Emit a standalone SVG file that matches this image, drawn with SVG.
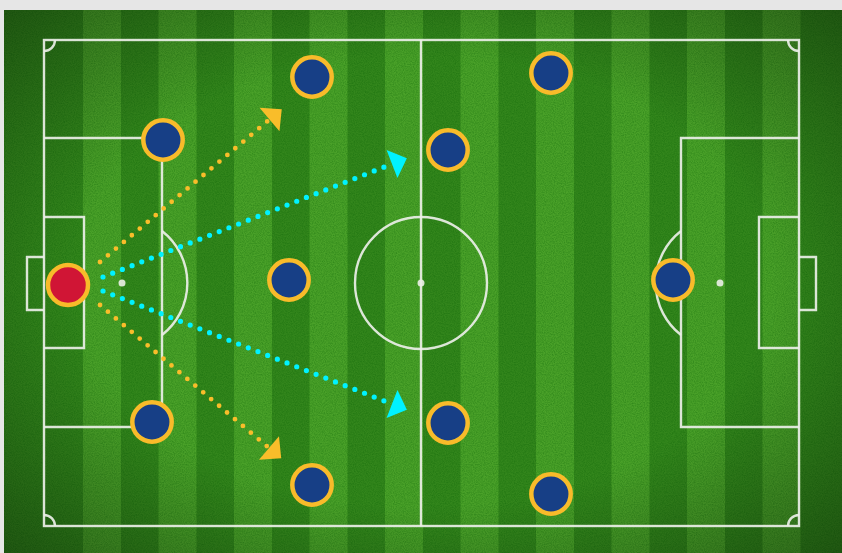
<svg xmlns="http://www.w3.org/2000/svg" width="842" height="553" viewBox="0 0 842 553">
<style>
.ln{fill:none;stroke:#ecefe8;stroke-width:2.4;stroke-opacity:0.92}
.spot{fill:#ecefe8;fill-opacity:0.9}
.stripe{fill:#5cb834;fill-opacity:0.55}
.blue{fill:#173f86;stroke:#f8bb2a;stroke-width:4.5}
.red{fill:#d01535;stroke:#f8bb2a;stroke-width:4.5}
.py{fill:none;stroke:#f9bd2a;stroke-width:4.8;stroke-linecap:round;stroke-dasharray:0 10.4}
.pc{fill:none;stroke:#00f2ff;stroke-width:5.2;stroke-linecap:round;stroke-dasharray:0 10.4}
</style>
<defs>
<radialGradient id="vig" cx="0.5" cy="0.5" r="0.75">
<stop offset="0.55" stop-color="#000" stop-opacity="0"/>
<stop offset="1" stop-color="#000" stop-opacity="0.4"/>
</radialGradient>
<filter id="noise" x="0" y="0" width="100%" height="100%">
<feTurbulence type="fractalNoise" baseFrequency="0.9" numOctaves="2" seed="3"/>
<feColorMatrix type="matrix" values="0 0 0 0 0  0 0 0 0 0.1  0 0 0 0 0  0 0 0 -1.1 0.75"/>
</filter>
<marker id="ay" markerUnits="userSpaceOnUse" markerWidth="20" markerHeight="32" viewBox="0 -15 16 30" refX="0" refY="0" orient="auto">
<path d="M0,-14.5 L15,0 L0,14.5 Z" fill="#f9bd2a"/>
</marker>
<marker id="ac" markerUnits="userSpaceOnUse" markerWidth="20" markerHeight="32" viewBox="0 -15 16 30" refX="0" refY="0" orient="auto">
<path d="M0,-14 L15,0 L0,14 Z" fill="#00f2ff"/>
</marker>
</defs>
<rect width="842" height="553" fill="#e6e6e6"/>
<g id="pitch">
<rect x="4" y="10" width="838" height="543" fill="#33861c"/>
<g>
<rect class="stripe" x="83" y="10" width="38" height="543"/>
<rect class="stripe" x="158.5" y="10" width="38" height="543"/>
<rect class="stripe" x="234" y="10" width="38" height="543"/>
<rect class="stripe" x="309.5" y="10" width="38" height="543"/>
<rect class="stripe" x="385" y="10" width="38" height="543"/>
<rect class="stripe" x="460.5" y="10" width="38" height="543"/>
<rect class="stripe" x="536" y="10" width="38" height="543"/>
<rect class="stripe" x="611.5" y="10" width="38" height="543"/>
<rect class="stripe" x="687" y="10" width="38" height="543"/>
<rect class="stripe" x="762.5" y="10" width="38" height="543"/>
</g>
<rect x="4" y="10" width="838" height="543" filter="url(#noise)" opacity="0.5"/>
<rect x="4" y="10" width="838" height="543" fill="url(#vig)"/>
<g id="markings">
<rect class="ln" x="44" y="40" width="755" height="486"/>
<line class="ln" x1="421" y1="40" x2="421" y2="526"/>
<circle class="ln" cx="421" cy="283" r="66"/>
<circle class="spot" cx="421" cy="283" r="3.5"/>
<path class="ln" d="M44,138 H162 V427 H44"/>
<path class="ln" d="M44,217 H84 V348 H44"/>
<path class="ln" d="M44,257 H27 V310 H44"/>
<circle class="spot" cx="122" cy="283" r="3.5"/>
<path class="ln" d="M162,231 A66,66 0 0 1 162,335"/>
<path class="ln" d="M799,138 H681 V427 H799"/>
<path class="ln" d="M799,217 H759 V348 H799"/>
<path class="ln" d="M799,257 H816 V310 H799"/>
<circle class="spot" cx="720" cy="283" r="3.5"/>
<path class="ln" d="M681,231 A66,66 0 0 0 681,335"/>
<path class="ln" d="M44,51 A11,11 0 0 0 55,40"/>
<path class="ln" d="M788,40 A11,11 0 0 0 799,51"/>
<path class="ln" d="M44,515 A11,11 0 0 1 55,526"/>
<path class="ln" d="M788,526 A11,11 0 0 1 799,515"/>
</g>
</g>
<g id="connectors">
<path class="py" d="M100,262 L269.5,119.5" marker-end="url(#ay)"/>
<path class="pc" d="M103,277 L392,164" marker-end="url(#ac)"/>
<path class="pc" d="M103,291 L392,404" marker-end="url(#ac)"/>
<path class="py" d="M100,305 L269,448" marker-end="url(#ay)"/>
</g>
<g id="keeper"><circle class="red" cx="68" cy="285" r="20"/></g>
<g id="p1"><circle class="blue" cx="312" cy="77" r="19.7"/></g>
<g id="p2"><circle class="blue" cx="163" cy="140" r="19.7"/></g>
<g id="p3"><circle class="blue" cx="551" cy="73" r="19.7"/></g>
<g id="p4"><circle class="blue" cx="448" cy="150" r="19.7"/></g>
<g id="p5"><circle class="blue" cx="289" cy="280" r="19.7"/></g>
<g id="p6"><circle class="blue" cx="673" cy="280" r="19.7"/></g>
<g id="p7"><circle class="blue" cx="152" cy="422" r="19.7"/></g>
<g id="p8"><circle class="blue" cx="448" cy="423" r="19.7"/></g>
<g id="p9"><circle class="blue" cx="312" cy="485" r="19.7"/></g>
<g id="p10"><circle class="blue" cx="551" cy="494" r="19.7"/></g>
</svg>
